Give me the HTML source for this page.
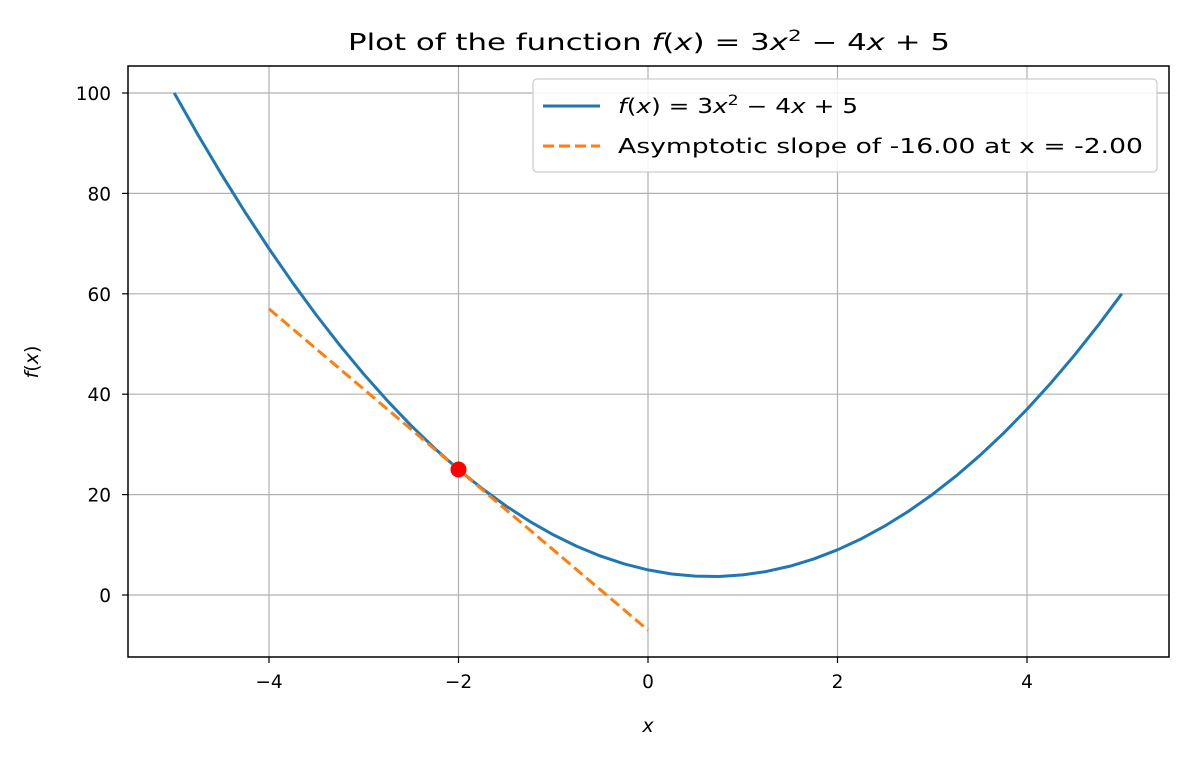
<!DOCTYPE html>
<html><head><meta charset="utf-8">
<style>
body{margin:0;background:#fff;}
svg text{font-family:"DejaVu Sans","Liberation Sans",sans-serif;fill:#000;}
.it{font-style:italic;}
</style></head>
<body>
<svg id="chart" width="1188" height="758" xmlns="http://www.w3.org/2000/svg">
<g id="grid"></g>
<g id="series"></g>
<rect x="128" y="66" width="1041" height="591" fill="none" stroke="#000" stroke-width="1.5"/>
<g id="ticks"></g>
<text x="348" y="50" font-size="23" textLength="602" lengthAdjust="spacingAndGlyphs">Plot of the function <tspan class="it">f</tspan>(<tspan class="it">x</tspan>) = 3<tspan class="it">x</tspan><tspan dy="-9" font-size="16">2</tspan><tspan dy="9"> − 4</tspan><tspan class="it">x</tspan> + 5</text>
<text x="648" y="732" font-size="19" text-anchor="middle" class="it">x</text>
<text transform="translate(38,362) rotate(-90)" font-size="19" text-anchor="middle"><tspan class="it">f</tspan>(<tspan class="it">x</tspan>)</text>
<g>
<rect x="533" y="79" width="624" height="93" rx="4" fill="#fff" fill-opacity="0.85" stroke="#ccc" stroke-width="1.2"/>
<line x1="543" y1="106" x2="600" y2="106" stroke="#1f77b4" stroke-width="3"/>
<text x="618" y="113" font-size="20" textLength="240" lengthAdjust="spacingAndGlyphs"><tspan class="it">f</tspan>(<tspan class="it">x</tspan>) = 3<tspan class="it">x</tspan><tspan dy="-8" font-size="14">2</tspan><tspan dy="8"> − 4</tspan><tspan class="it">x</tspan> + 5</text>
<line x1="543" y1="146" x2="600" y2="146" stroke="#ff7f0e" stroke-width="3" stroke-dasharray="11,5"/>
<text x="618" y="153" font-size="20" textLength="525" lengthAdjust="spacingAndGlyphs">Asymptotic slope of -16.00 at x = -2.00</text>
</g>
</svg>
<script>
const curveX=[-5,-4.75,-4.5,-4.25,-4,-3.75,-3.5,-3.25,-3,-2.75,-2.5,-2.25,-2,-1.75,-1.5,-1.25,-1,-0.75,-0.5,-0.25,0,0.25,0.5,0.75,1,1.25,1.5,1.75,2,2.25,2.5,2.75,3,3.25,3.5,3.75,4,4.25,4.5,4.75,5];
const curveY=[100,91.6875,83.75,76.1875,69,62.1875,55.75,49.6875,44,38.6875,33.75,29.1875,25,21.1875,17.75,14.6875,12,9.6875,7.75,6.1875,5,4.1875,3.75,3.6875,4,4.6875,5.75,7.1875,9,11.1875,13.75,16.6875,20,23.6875,27.75,32.1875,37,42.1875,47.75,53.6875,60];
const tangentX=[-4,0];
const tangentY=[57,-7];
const pointX=[-2];
const pointY=[25];
const xTicks=[-4,-2,0,2,4];
const yTicks=[0,20,40,60,80,100];
const xTickLabels=["−4","−2","0","2","4"];
const yTickLabels=["0","20","40","60","80","100"];

const NS="http://www.w3.org/2000/svg";
const sx=v=>648+v*94.75;
const sy=v=>595-v*5.02;
function mk(tag,attrs,parent){const e=document.createElementNS(NS,tag);for(const k in attrs)e.setAttribute(k,attrs[k]);parent.appendChild(e);return e;}
const grid=document.getElementById('grid'),ticks=document.getElementById('ticks'),series=document.getElementById('series');
xTicks.forEach((t,i)=>{
  const g=mk('line',{x1:sx(t),x2:sx(t),y1:66,y2:657,stroke:'#b0b0b0','stroke-width':1.2},grid);
  
  
  const tk=mk('line',{x1:sx(t),x2:sx(t),y1:657,y2:663,stroke:'#000','stroke-width':1.2},ticks);
  
  
  const lb=mk('text',{x:sx(t),y:688,'font-size':18.5,'text-anchor':'middle'},ticks);
  lb.textContent=xTickLabels[i];
  
  
});
yTicks.forEach((t,i)=>{
  const g=mk('line',{x1:128,x2:1169,y1:sy(t),y2:sy(t),stroke:'#b0b0b0','stroke-width':1.2},grid);
  
  
  const tk=mk('line',{x1:122,x2:128,y1:sy(t),y2:sy(t),stroke:'#000','stroke-width':1.2},ticks);
  
  
  const lb=mk('text',{x:111,y:sy(t)+7,'font-size':18.5,'text-anchor':'end'},ticks);
  lb.textContent=yTickLabels[i];
  
  
});
const c=mk('polyline',{points:curveX.map((x,i)=>sx(x)+','+sy(curveY[i])).join(' '),fill:'none',stroke:'#1f77b4','stroke-width':3,'stroke-linejoin':'round'},series);


const t=mk('polyline',{points:tangentX.map((x,i)=>sx(x)+','+sy(tangentY[i])).join(' '),fill:'none',stroke:'#ff7f0e','stroke-width':3,'stroke-dasharray':'11,5'},series);


pointX.forEach((x,i)=>{
  const p=mk('circle',{cx:sx(x),cy:sy(pointY[i]),r:8,fill:'#ff0000'},series);
  
  
});
</script>
</body></html>
